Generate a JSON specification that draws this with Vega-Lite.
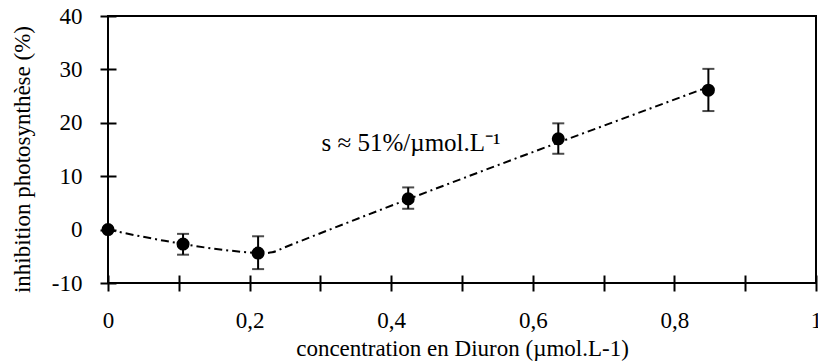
{
  "$schema": "https://vega.github.io/schema/vega-lite/v6.json",
  "width": 708,
  "height": 267,
  "autosize": {"type": "none"},
  "padding": {"left": 108, "top": 16, "right": 2, "bottom": 78},
  "background": "white",
  "config": {
    "view": {"stroke": "black", "strokeWidth": 2},
    "font": "Liberation Serif",
    "axis": {
      "labelFont": "Liberation Serif",
      "titleFont": "Liberation Serif",
      "labelFontSize": 23,
      "titleFontSize": 23,
      "titleFontWeight": "normal",
      "labelColor": "black",
      "titleColor": "black",
      "tickColor": "black",
      "tickWidth": 2,
      "grid": false,
      "domain": false,
      "zindex": 1
    }
  },
  "datasets": {
    "points": [
      {"x": 0, "y": 0, "lo": null, "hi": null},
      {"x": 0.106, "y": -2.7, "lo": -4.7, "hi": -0.8},
      {"x": 0.212, "y": -4.4, "lo": -7.4, "hi": -1.25},
      {"x": 0.424, "y": 5.75, "lo": 3.9, "hi": 7.9},
      {"x": 0.636, "y": 17.0, "lo": 14.2, "hi": 19.9},
      {"x": 0.848, "y": 26.1, "lo": 22.2, "hi": 30.1}
    ],
    "curve": [
      {"x": 0, "y": 0},
      {"x": 0.04, "y": -1.1},
      {"x": 0.08, "y": -2.1},
      {"x": 0.106, "y": -2.7},
      {"x": 0.14, "y": -3.4},
      {"x": 0.17, "y": -3.9},
      {"x": 0.2, "y": -4.3},
      {"x": 0.215, "y": -4.45},
      {"x": 0.232, "y": -4.25},
      {"x": 0.25, "y": -3.3},
      {"x": 0.848, "y": 26.7}
    ],
    "note": [{"x": 0.428, "y": 14.8, "text": "s ≈ 51%/µmol.L⁻¹"}]
  },
  "layer": [
    {
      "data": {"name": "curve"},
      "mark": {"type": "line", "color": "black", "strokeWidth": 2, "strokeDash": [8, 4, 2, 4], "interpolate": "monotone"},
      "encoding": {
        "x": {
          "field": "x", "type": "quantitative",
          "scale": {"domain": [0, 1], "nice": false, "zero": false},
          "axis": {
            "title": "concentration en Diuron (µmol.L-1)",
            "values": [0, 0.05, 0.1, 0.15, 0.2, 0.25, 0.3, 0.35, 0.4, 0.45, 0.5, 0.55, 0.6, 0.65, 0.7, 0.75, 0.8, 0.85, 0.9, 0.95, 1],
            "labelExpr": "round(datum.value*100) % 20 == 0 ? replace('' + datum.value, '.', ',') : ''",
            "tickSize": 16,
            "offset": -8,
            "labelPadding": 18,
            "labelFlush": false,
            "labelOverlap": false,
            "titleY": 80,
            "titleBaseline": "alphabetic",
            "encode": {"ticks": {"update": {"y2": {"signal": "round(datum.value*100) % 20 == 0 ? 16 : 8"}}}}
          }
        },
        "y": {
          "field": "y", "type": "quantitative",
          "scale": {"domain": [-10, 40], "nice": false, "zero": false},
          "axis": {
            "title": "inhibition photosynthèse (%)",
            "values": [-10, -5, 0, 5, 10, 15, 20, 25, 30, 35, 40],
            "labelExpr": "datum.value % 10 == 0 ? '' + datum.value : ''",
            "tickSize": 16,
            "offset": -8,
            "labelPadding": 18,
            "labelOverlap": false,
            "titleX": -94,
            "titleY": 143,
            "titleBaseline": "middle",
            "encode": {"ticks": {"update": {"x2": {"signal": "datum.value % 10 == 0 ? -16 : -8"}}}}
          }
        }
      }
    },
    {
      "data": {"name": "points"},
      "transform": [{"filter": "datum.lo != null"}],
      "mark": {"type": "rule", "color": "black", "strokeWidth": 2},
      "encoding": {
        "x": {"field": "x", "type": "quantitative"},
        "y": {"field": "lo", "type": "quantitative"},
        "y2": {"field": "hi"}
      }
    },
    {
      "data": {"name": "points"},
      "transform": [{"filter": "datum.lo != null"}],
      "mark": {"type": "tick", "color": "black", "orient": "horizontal", "size": 12, "thickness": 2},
      "encoding": {
        "x": {"field": "x", "type": "quantitative"},
        "y": {"field": "lo", "type": "quantitative"}
      }
    },
    {
      "data": {"name": "points"},
      "transform": [{"filter": "datum.lo != null"}],
      "mark": {"type": "tick", "color": "black", "orient": "horizontal", "size": 12, "thickness": 2},
      "encoding": {
        "x": {"field": "x", "type": "quantitative"},
        "y": {"field": "hi", "type": "quantitative"}
      }
    },
    {
      "data": {"name": "points"},
      "mark": {"type": "point", "shape": "circle", "filled": true, "color": "black", "opacity": 1, "size": 170},
      "encoding": {
        "x": {"field": "x", "type": "quantitative"},
        "y": {"field": "y", "type": "quantitative"}
      }
    },
    {
      "data": {"name": "note"},
      "mark": {"type": "text", "font": "Liberation Serif", "fontSize": 25, "color": "black", "align": "center", "baseline": "alphabetic"},
      "encoding": {
        "x": {"field": "x", "type": "quantitative"},
        "y": {"field": "y", "type": "quantitative"},
        "text": {"field": "text"}
      }
    }
  ]
}
